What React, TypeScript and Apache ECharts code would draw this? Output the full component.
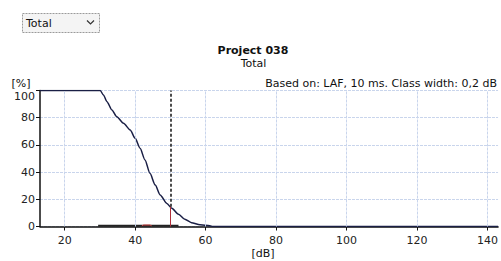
import React, { useEffect, useRef } from "react";
import * as echarts from "echarts";

const cdfX = [13, 30.1, 31.0, 32.0, 33.4, 34.8, 36.7, 38.6, 40.0, 41.4, 42.8, 44.2, 45.7, 47.1, 49.0, 50.4, 52.3, 54.1, 56.0, 58.4, 61.2, 62.0, 143];
const cdfY = [100, 100, 96.7, 91.8, 85.7, 80.7, 75.9, 71, 64.8, 57.5, 48.9, 39.1, 30.5, 23.2, 17.0, 13.4, 9.0, 5.3, 2.8, 1.3, 0.6, 0, 0];

const distX = [29.5, 33, 37, 41, 45, 49, 52.3];
const distY = [0.5, 0.6, 0.6, 0.6, 0.6, 0.6, 0.5];

const redX = [41.9, 42.4, 44.2, 44.7];
const redY = [0.5, 1.1, 1.1, 0.5];

const xTicks = [20, 40, 60, 80, 100, 120, 140];
const markerX = 50;
const markerLevel = 14.5;

const FONT = "DejaVu Sans";

export default function App() {
  const ref = useRef<HTMLDivElement>(null);
  useEffect(() => {
    document.body.style.margin = "0";
    const chart = echarts.init(ref.current!, null, { renderer: "svg" });
    const grid = "#c9d5ec";
    chart.setOption({
      animation: false,
      backgroundColor: "#ffffff",
      textStyle: { fontFamily: FONT },
      grid: { left: 40, right: 1, top: 90.5, bottom: 34.5, containLabel: false },
      xAxis: {
        type: "value",
        min: 13,
        max: 143,
        axisLine: { show: true, lineStyle: { color: "#111", width: 1.5 } },
        axisTick: { show: true, customValues: xTicks, length: 4, lineStyle: { color: "#111" } },
        axisLabel: { customValues: xTicks, color: "#222", fontSize: 11, fontFamily: FONT, margin: 8 },
        splitLine: { show: false },
      },
      yAxis: {
        type: "value",
        min: 0,
        max: 100,
        interval: 20,
        axisLine: { show: true, lineStyle: { color: "#111", width: 1.5 } },
        axisTick: { show: true, length: 4, lineStyle: { color: "#111" } },
        axisLabel: {
          color: "#222",
          fontSize: 11,
          fontFamily: FONT,
          margin: 5,
          formatter: (v: number) => (v === 100 ? "{top|100}" : String(v)),
          rich: { top: { fontSize: 11, fontFamily: FONT, color: "#222", padding: [11, 0, 0, 0] } },
        },
        splitLine: { show: true, lineStyle: { color: grid, type: [3, 1], width: 1 } },
      },
      graphic: [
        { type: "rect", shape: { x: 22.5, y: 13.5, width: 77, height: 19 }, style: { fill: "#f4f4f4", stroke: "#9a9a9a", lineWidth: 1, lineDash: [2, 1] } },
        { type: "text", x: 26, y: 23, style: { text: "Total", font: `11px '${FONT}'`, fill: "#111", verticalAlign: "middle" } },
        { type: "polyline", shape: { points: [[87, 20.5], [90.5, 24], [94, 20.5]] }, style: { stroke: "#333", lineWidth: 1.2, fill: "none" } },
        { type: "text", x: 253, y: 50, style: { text: "Project 038", font: `bold 11px '${FONT}'`, fill: "#111", align: "center", verticalAlign: "middle" } },
        { type: "text", x: 253.5, y: 63.5, style: { text: "Total", font: `11px '${FONT}'`, fill: "#111", align: "center", verticalAlign: "middle" } },
        { type: "text", x: 497, y: 83, style: { text: "Based on: LAF, 10 ms. Class width: 0,2 dB", font: `11px '${FONT}'`, fill: "#111", align: "right", verticalAlign: "middle" } },
        { type: "text", x: 21, y: 83, style: { text: "[%]", font: `11px '${FONT}'`, fill: "#111", align: "center", verticalAlign: "middle" } },
        { type: "text", x: 263, y: 253.5, style: { text: "[dB]", font: `11px '${FONT}'`, fill: "#111", align: "center", verticalAlign: "middle" } },
      ],
      series: [
        {
          type: "line",
          data: xTicks.map((t) => [t, 0]),
          symbol: "none",
          lineStyle: { width: 0 },
          silent: true,
          markLine: {
            symbol: "none",
            silent: true,
            label: { show: false },
            lineStyle: { color: grid, type: [3, 1], width: 1 },
            data: xTicks.map((t) => ({ xAxis: t })),
          },
        },
        {
          type: "line",
          data: cdfX.map((x, i) => [x, cdfY[i]]),
          symbol: "none",
          smooth: 0.25,
          smoothMonotone: "x",
          lineStyle: { color: "#1a1f45", width: 1.5 },
          markLine: {
            symbol: "none",
            silent: true,
            label: { show: false },
            data: [
              [
                { coord: [markerX, markerLevel], lineStyle: { color: "#111", type: [3, 2], width: 1.5 } },
                { coord: [markerX, 100] },
              ],
              [
                { coord: [markerX, 0], lineStyle: { color: "#b0303a", type: "solid", width: 1 } },
                { coord: [markerX, markerLevel] },
              ],
            ],
          },
        },
        {
          type: "line",
          data: distX.map((x, i) => [x, distY[i]]),
          symbol: "none",
          lineStyle: { color: "#222", width: 2 },
        },
        {
          type: "line",
          data: redX.map((x, i) => [x, redY[i]]),
          symbol: "none",
          lineStyle: { color: "#d04040", width: 1 },
        },
      ],
    });
    return () => chart.dispose();
  }, []);
  return <div ref={ref} style={{ width: 501, height: 261 }} />;
}
